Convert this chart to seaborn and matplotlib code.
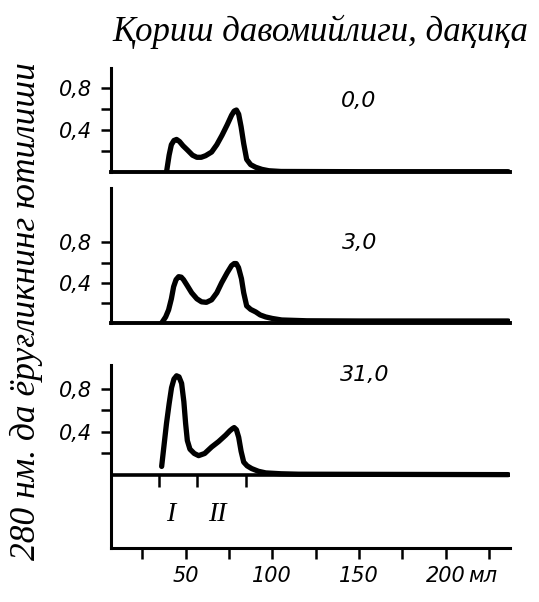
import matplotlib
matplotlib.use('Agg')
import matplotlib.pyplot as plt
import seaborn as sns
import pandas as pd

sns.set_style('white')
plt.rcParams['font.family'] = ['DejaVu Sans']
plt.rcParams['text.color'] = 'black'
plt.rcParams['xtick.color'] = 'black'
plt.rcParams['ytick.color'] = 'black'
plt.rcParams['xtick.labelcolor'] = 'black'
plt.rcParams['ytick.labelcolor'] = 'black'

# ---------------- data ----------------
title_text = "Қориш давомийлиги, дақиқа"
ylabel_text = "280 нм. да ёруғликнинг ютилиши"
panel_labels = ["0,0", "3,0", "31,0"]

vol_0 = [39.0, 40.5, 41.8, 43.3, 44.8, 46.5, 48.5, 51.0, 54.0, 56.5, 59.0, 61.5, 65.0, 68.0,
         71.0, 74.0, 76.5, 78.0, 79.3, 80.6, 82.0, 83.5, 85.2, 87.5, 90.4, 94.0, 98.0, 105.0, 150.0, 236.0]
abs_0 = [0.0, 0.16, 0.26, 0.30, 0.31, 0.29, 0.25, 0.21, 0.16, 0.14, 0.14, 0.155, 0.19, 0.26,
         0.35, 0.45, 0.54, 0.58, 0.59, 0.55, 0.43, 0.27, 0.12, 0.07, 0.045, 0.025, 0.012, 0.005, 0.003, 0.003]

vol_1 = [36.2, 38.5, 40.2, 41.8, 43.1, 44.5, 46.0, 47.5, 48.8, 51.0, 53.5, 56.5, 59.2, 62.0, 65.0, 68.0,
         70.8, 74.0, 76.5, 78.0, 79.2, 80.5, 82.2, 83.5, 85.2, 87.5, 90.4, 93.0, 96.2, 100.0, 105.4, 120.0, 150.0, 236.0]
abs_1 = [0.0, 0.06, 0.13, 0.24, 0.36, 0.43, 0.46, 0.455, 0.43, 0.37, 0.30, 0.24, 0.21, 0.205, 0.23, 0.30,
         0.40, 0.50, 0.57, 0.59, 0.59, 0.55, 0.44, 0.30, 0.17, 0.135, 0.11, 0.08, 0.06, 0.045, 0.03, 0.022, 0.02, 0.02]

vol_2 = [36.2, 37.6, 39.0, 40.5, 41.9, 43.3, 44.8, 46.2, 47.7, 49.0, 50.0, 51.0, 52.5, 55.0, 57.5, 61.0,
         65.0, 69.0, 73.1, 75.5, 77.0, 78.0, 79.3, 80.6, 82.0, 83.5, 85.5, 88.1, 92.0, 96.2, 105.0, 115.2, 236.0]
abs_2 = [0.08, 0.28, 0.48, 0.66, 0.81, 0.89, 0.92, 0.91, 0.85, 0.68, 0.48, 0.32, 0.24, 0.20, 0.18, 0.20,
         0.26, 0.31, 0.37, 0.41, 0.43, 0.44, 0.42, 0.35, 0.22, 0.12, 0.085, 0.06, 0.035, 0.02, 0.012, 0.008, 0.004]

fraction_marks = [34.4, 56.3, 84.6]
fraction_names = ["I", "II"]
fraction_label_x = [41.3, 68.5]

y_ticks = [0.2, 0.4, 0.6, 0.8]
y_tick_labels = ["", "0,4", "", "0,8"]
x_ticks = [25, 50, 75, 100, 125, 150, 175, 200, 225]
x_tick_labels = ["", "50", "", "100", "", "150", "", "200", ""]
x_unit = "мл"

curves = [(vol_0, abs_0), (vol_1, abs_1), (vol_2, abs_2)]

# ---------------- layout ----------------
W, H = 539, 602
fig = plt.figure(figsize=(W / 100, H / 100), dpi=100)
fig.patch.set_facecolor('white')

xmin, xmax = 7, 237
boxes = [
    (111, 68, 172, (0, 0.99)),
    (111, 188, 323, (0, 1.34)),
    (111, 365, 548, (-0.676, 1.02)),
]
label_pos = [(149.5, 0.68), (150.5, 0.79), (153.5, 0.93)]

num_font = dict(family=['DejaVu Sans'], style='italic')
serif_font = dict(family=['Liberation Serif', 'DejaVu Serif'], style='italic')

axes = []
for i, (x0, ytop, ybot, ylim) in enumerate(boxes):
    ax = fig.add_axes([x0 / W, 1 - ybot / H, (510 - x0) / W, (ybot - ytop) / H])
    ax.set_facecolor('none')
    df = pd.DataFrame({'vol': curves[i][0], 'abs': curves[i][1]})
    sns.lineplot(data=df, x='vol', y='abs', ax=ax, color='black', lw=3.8,
                 sort=False, estimator=None, solid_joinstyle='round', solid_capstyle='round')
    ax.set_xlim(xmin, xmax)
    ax.set_ylim(*ylim)
    ax.set_xlabel('')
    ax.set_ylabel('')
    for s in ['top', 'right']:
        ax.spines[s].set_visible(False)
    ax.spines['left'].set_linewidth(2.2)
    ax.spines['left'].set_color('black')
    ax.spines['bottom'].set_color('black')
    ax.set_yticks(y_ticks)
    ax.set_yticklabels(y_tick_labels, fontsize=15, **num_font)
    ax.tick_params(axis='y', left=True, direction='out', length=7, width=1.8,
                   color='black', pad=6.5)
    ax.text(label_pos[i][0], label_pos[i][1], panel_labels[i], fontsize=16,
            ha='center', va='center', **num_font)
    if i < 2:
        ax.spines['bottom'].set_linewidth(2.8)
        ax.set_xticks([])
    else:
        ax.spines['bottom'].set_linewidth(2.2)
        ax.axhline(0, color='black', lw=2.6)
        ax.vlines(fraction_marks, -0.11, 0, color='black', lw=1.8)
        for name, fx in zip(fraction_names, fraction_label_x):
            ax.text(fx, -0.37, name, fontsize=20, ha='center', va='center', **serif_font)
        ax.set_xticks(x_ticks)
        ax.set_xticklabels(x_tick_labels, fontsize=15, **num_font)
        ax.tick_params(axis='x', bottom=True, direction='out', length=8, width=1.8,
                       color='black', pad=5)
        ax.annotate(x_unit, xy=(200, 0), xycoords=('data', 'axes fraction'),
                    xytext=(16, -13), textcoords='offset points', ha='left', va='top',
                    fontsize=15, **num_font)
    axes.append(ax)

fig.text(528 / W, 1 - 32 / H, title_text, ha='right', va='center', fontsize=25, **serif_font)
fig.text(26 / W, 1 - 311 / H, ylabel_text, ha='center', va='center', rotation=90,
         fontsize=25.5, **serif_font)

fig.savefig('out.png', dpi=100, facecolor='white')
